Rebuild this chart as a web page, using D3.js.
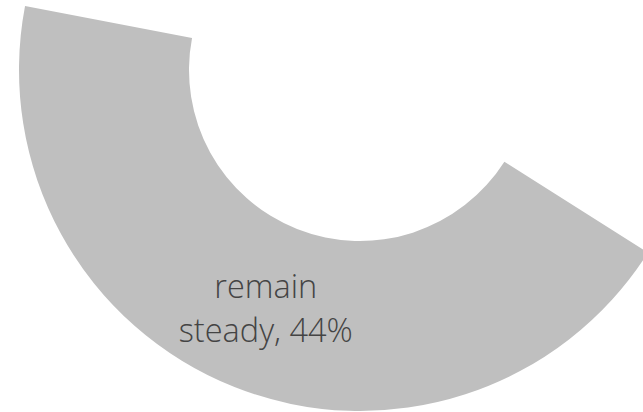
<!DOCTYPE html>
<html>
<head>
<meta charset="utf-8">
<script src="https://cdn.jsdelivr.net/npm/d3@7"></script>
<style>
  html, body { margin: 0; padding: 0; background: #ffffff; }
  svg { display: block; }
</style>
</head>
<body>
<svg id="chart" width="643" height="412"></svg>
<script>
// Data (only the "remain steady" slice is visible in the chart)
const categories = ["hidden-before", "remain steady", "hidden-after"];
const values = [34, 44, 22];
const visible = [false, true, false];
const labelLines = [[], ["remain", "steady, 44%"], []];

const width = 643, height = 412;
const cx = 360, cy = 70;
const innerR = 171, outerR = 341;

const svg = d3.select("#chart");
const g = svg.append("g").attr("transform", `translate(${cx},${cy})`);

const data = categories.map((c, i) => ({ category: c, value: values[i], visible: visible[i], lines: labelLines[i] }));

const pie = d3.pie().sort(null).value(d => d.value);
const arc = d3.arc().innerRadius(innerR).outerRadius(outerR);
const arcs = pie(data);

g.selectAll("path.slice")
  .data(arcs)
  .join("path")
  .attr("class", "slice")
  .attr("d", arc)
  .attr("fill", d => d.data.visible ? "#bfbfbf" : "none")
  .attr("stroke", "none");

const labels = g.selectAll("text.label")
  .data(arcs.filter(d => d.data.visible))
  .join("text")
  .attr("class", "label")
  .attr("transform", d => { const [x, y] = arc.centroid(d); return `translate(${x},${y})`; })
  .attr("text-anchor", "middle")
  .attr("font-family", "'Open Sans', 'Noto Sans', sans-serif")
  .attr("font-weight", 300)
  .attr("font-size", 32.5)
  .attr("fill", "#444444");

labels.selectAll("tspan")
  .data(d => d.data.lines.map((t, i) => ({ t, i })))
  .join("tspan")
  .attr("x", 0)
  .attr("y", d => d.i === 0 ? -10 : 34)
  .text(d => d.t);
</script>
</body>
</html>
